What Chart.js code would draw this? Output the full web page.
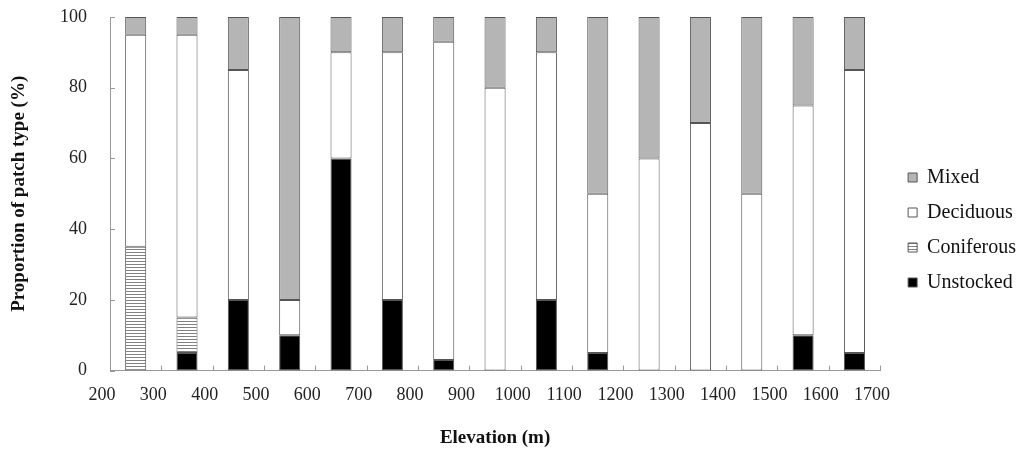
<!DOCTYPE html>
<html>
<head>
<meta charset="utf-8">
<script src="https://cdn.jsdelivr.net/npm/chart.js@4"></script>
<style>
  html, body { margin: 0; padding: 0; background: #fff; }
  #wrap { width: 1021px; height: 451px; }
</style>
</head>
<body>
<div id="wrap"><canvas id="chart"></canvas></div>
<script>
// bars sit between the axis ticks (200-300, 300-400, ...)
const elevations = [250, 350, 450, 550, 650, 750, 850, 950, 1050, 1150, 1250, 1350, 1450, 1550, 1650];
const unstocked  = [0, 5, 20, 10, 60, 20, 3, 0, 20, 5, 0, 0, 0, 10, 5];
const coniferous = [35, 10, 0, 0, 0, 0, 0, 0, 0, 0, 0, 0, 0, 0, 0];
const deciduous  = [60, 80, 65, 10, 30, 70, 90, 80, 70, 45, 60, 70, 50, 65, 80];
const mixed      = [5, 5, 15, 80, 10, 10, 7, 20, 10, 50, 40, 30, 50, 25, 15];

const serif = "'Liberation Serif', 'Times New Roman', serif";

// horizontal stripe fill for coniferous
function stripes() {
    const c = document.createElement('canvas');
    c.width = 4; c.height = 3;
    const g = c.getContext('2d');
    g.fillStyle = '#fff';
    g.fillRect(0, 0, 4, 3);
    g.fillStyle = '#808080';
    g.fillRect(0, 0, 4, 1);
    return g.createPattern(c, 'repeat');
}

function pts(vals) {
    return elevations.map((e, i) => ({ x: e, y: vals[i] }));
}

// small tick marks pointing into the plot, like the original
const innerTicks = {
    id: 'innerTicks',
    afterDraw(chart) {
        const { ctx, chartArea, scales: { x, y } } = chart;
        ctx.save();
        ctx.strokeStyle = '#999';
        ctx.lineWidth = 1;
        x.ticks.forEach(t => {
            const px = Math.round(x.getPixelForValue(t.value)) + 0.5;
            ctx.beginPath();
            ctx.moveTo(px, chartArea.bottom);
            ctx.lineTo(px, chartArea.bottom - 5);
            ctx.stroke();
        });
        y.ticks.forEach(t => {
            const py = Math.round(y.getPixelForValue(t.value)) + 0.5;
            ctx.beginPath();
            ctx.moveTo(chartArea.left, py);
            ctx.lineTo(chartArea.left + 5, py);
            ctx.stroke();
        });
        ctx.restore();
    }
};

// nudge the legend a bit further right (and up), away from the plot
const legendNudge = {
    id: 'legendNudge',
    afterLayout(chart) {
        chart.legend.left += 13;
        chart.legend.right += 13;
        chart.legend.top -= 3;
        chart.legend.bottom -= 3;
    }
};

const common = { borderColor: '#555', borderWidth: 1, borderSkipped: false };

new Chart(document.getElementById('chart'), {
    type: 'bar',
    data: {
        datasets: [
            Object.assign({ label: 'Unstocked', data: pts(unstocked), backgroundColor: '#000' }, common),
            Object.assign({ label: 'Coniferous', data: pts(coniferous), backgroundColor: stripes() }, common),
            Object.assign({ label: 'Deciduous', data: pts(deciduous), backgroundColor: '#fff' }, common),
            Object.assign({ label: 'Mixed', data: pts(mixed), backgroundColor: '#b5b5b5' }, common)
        ]
    },
    options: {
        responsive: true,
        maintainAspectRatio: false,
        animation: false,
        categoryPercentage: 1,
        barPercentage: 0.41,
        layout: { padding: { top: 17, left: 6, right: 8, bottom: 2 } },
        plugins: {
            tooltip: { enabled: false },
            legend: {
                position: 'right',
                reverse: true,
                labels: {
                    boxWidth: 9,
                    boxHeight: 9,
                    padding: 15,
                    color: '#111',
                    font: { family: serif, size: 20 }
                }
            }
        },
        scales: {
            x: {
                type: 'linear',
                stacked: true,
                offset: false,
                min: 200,
                max: 1700,
                grid: { display: false },
                border: { color: '#999' },
                ticks: {
                    stepSize: 100,
                    labelOffset: -8,
                    padding: 6,
                    color: '#222',
                    font: { family: serif, size: 18 },
                    callback: v => String(v)
                },
                title: {
                    display: true,
                    text: 'Elevation (m)',
                    color: '#111',
                    padding: { top: 14, bottom: 0 },
                    font: { family: serif, size: 19, weight: 'bold' }
                }
            },
            y: {
                stacked: true,
                min: 0,
                max: 100,
                grid: { display: false, drawTicks: true, tickLength: 19 },
                border: { color: '#999' },
                afterFit: s => { s.width = 104; },
                ticks: {
                    stepSize: 20,
                    padding: 4,
                    color: '#222',
                    font: { family: serif, size: 18 }
                },
                title: {
                    display: true,
                    text: 'Proportion of patch type (%)',
                    color: '#111',
                    padding: { top: 2, bottom: 18 },
                    font: { family: serif, size: 19, weight: 'bold' }
                }
            }
        }
    },
    plugins: [innerTicks, legendNudge]
});
</script>
</body>
</html>
